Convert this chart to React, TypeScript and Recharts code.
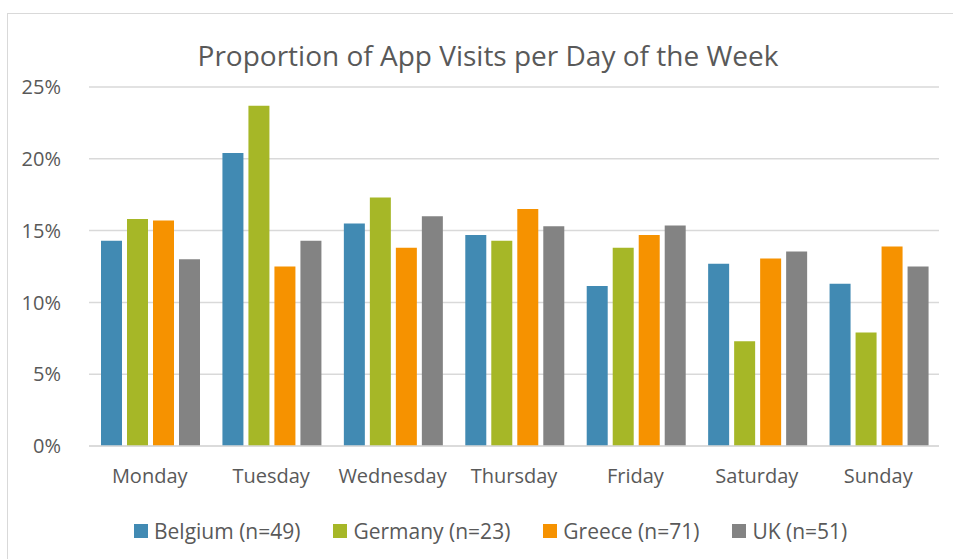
import React from 'react';
import { BarChart, Bar, XAxis, YAxis, CartesianGrid } from 'recharts';

const days = ['Monday', 'Tuesday', 'Wednesday', 'Thursday', 'Friday', 'Saturday', 'Sunday'];
const belgium = [14.3, 20.4, 15.5, 14.7, 11.15, 12.7, 11.3];
const germany = [15.8, 23.7, 17.3, 14.3, 13.8, 7.3, 7.9];
const greece = [15.7, 12.5, 13.8, 16.5, 14.7, 13.05, 13.9];
const uk = [13.0, 14.3, 16.0, 15.3, 15.35, 13.55, 12.5];
const yTicks = [0, 5, 10, 15, 20, 25];

const series = [
  { key: 'belgium', name: 'Belgium (n=49)', color: '#418AB3' },
  { key: 'germany', name: 'Germany (n=23)', color: '#A6B727' },
  { key: 'greece', name: 'Greece (n=71)', color: '#F69200' },
  { key: 'uk', name: 'UK (n=51)', color: '#838383' },
];

const data = days.map((day, i) => ({
  day,
  belgium: belgium[i],
  germany: germany[i],
  greece: greece[i],
  uk: uk[i],
}));

const font = '"Open Sans", sans-serif';
const textColor = '#595959';

export default function App() {
  return (
    <div
      style={{
        position: 'absolute',
        left: 0,
        top: 0,
        width: 953,
        height: 559,
        background: '#fff',
        fontFamily: font,
        overflow: 'hidden',
      }}
    >
      <div
        style={{
          position: 'absolute',
          left: 7,
          top: 13,
          width: 960,
          height: 600,
          border: '1.5px solid #d9d9d9',
          boxSizing: 'border-box',
        }}
      />
      <div
        style={{
          position: 'absolute',
          top: 35,
          left: 0,
          width: 976,
          textAlign: 'center',
          fontSize: 28,
          color: textColor,
          lineHeight: '40px',
        }}
      >
        Proportion of App Visits per Day of the Week
      </div>
      <div style={{ position: 'absolute', left: 0, top: 0 }}>
        <BarChart
          width={953}
          height={559}
          data={data}
          margin={{ top: 87, right: 14, bottom: 83, left: 0 }}
          barCategoryGap={12}
          barGap={5}
        >
          <CartesianGrid vertical={false} stroke="#d9d9d9" strokeWidth={1.5} />
          <XAxis
            dataKey="day"
            height={30}
            axisLine={{ stroke: '#d9d9d9', strokeWidth: 1.5 }}
            tickLine={false}
            tickMargin={17}
            tick={{ fill: textColor, fontSize: 20, fontFamily: font }}
            interval={0}
          />
          <YAxis
            width={89}
            domain={[0, 25]}
            ticks={yTicks}
            axisLine={false}
            tickLine={false}
            tickMargin={22}
            tickFormatter={(v) => `${v}%`}
            tick={{ fill: textColor, fontSize: 20, fontFamily: font }}
          />
          {series.map((s) => (
            <Bar
              key={s.key}
              dataKey={s.key}
              name={s.name}
              fill={s.color}
              isAnimationActive={false}
            />
          ))}
        </BarChart>
      </div>
      <div
        style={{
          position: 'absolute',
          top: 514,
          left: 134,
          display: 'flex',
          alignItems: 'center',
          fontSize: 21,
          color: textColor,
          lineHeight: '34px',
        }}
      >
        {series.map((s) => (
          <div key={s.key} style={{ display: 'flex', alignItems: 'center', marginRight: 33 }}>
            <span
              style={{
                display: 'inline-block',
                width: 14,
                height: 14,
                background: s.color,
                marginRight: 6,
              }}
            />
            <span>{s.name}</span>
          </div>
        ))}
      </div>
    </div>
  );
}
